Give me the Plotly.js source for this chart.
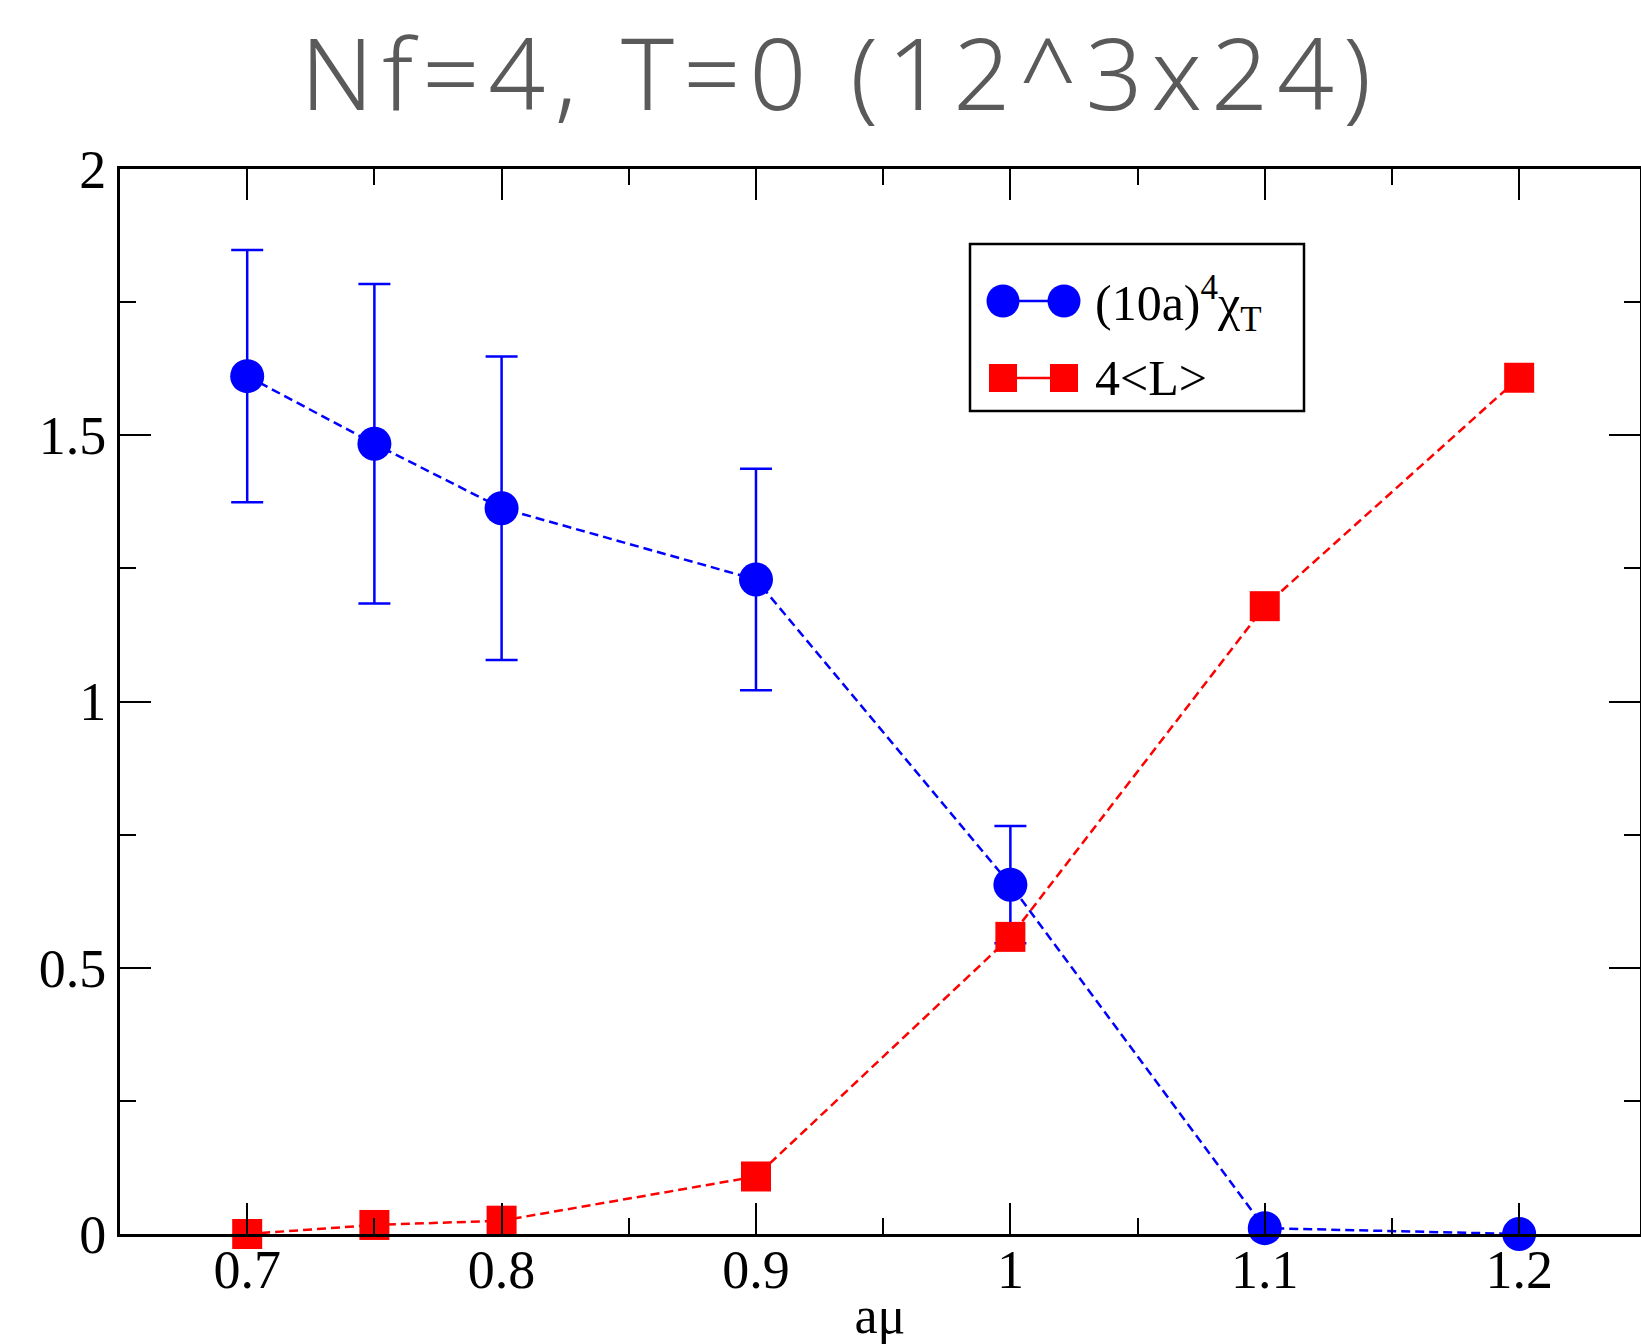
<!DOCTYPE html>
<html>
<head>
<meta charset="utf-8">
<script src="https://cdn.plot.ly/plotly-3.0.1.min.js"></script>
<style>
html,body{margin:0;padding:0;background:#fff;overflow:hidden}
#chart{width:1641px;height:1344px}
.gtitle{letter-spacing:9px}
</style>
</head>
<body>
<div id="chart"></div>
<script>
// Data
const amu = [0.7, 0.75, 0.8, 0.9, 1.0, 1.1, 1.2];
const chiT = [1.611, 1.484, 1.363, 1.229, 0.656, 0.011, 0.0];
const chiTErr = [0.237, 0.30, 0.285, 0.208, 0.11, 0, 0];
const fourL = [0.0, 0.017, 0.025, 0.108, 0.558, 1.179, 1.608];
const chiName = "(10a)<sup>4</sup>χ<sub>T</sub>";
const lName = "4&lt;L&gt;";
const titleText = "Nf=4, T=0 (12^3x24)";
const xTitle = "aμ";
const xTickVals = [0.7, 0.8, 0.9, 1.0, 1.1, 1.2];
const xTickText = ["0.7", "0.8", "0.9", "1", "1.1", "1.2"];
const yTickVals = [0, 0.5, 1, 1.5, 2];
const yTickText = ["0", "0.5", "1", "1.5", "2"];

const serif = "Liberation Serif, Times New Roman, serif";
const BLUE = "#0000ff", RED = "#ff0000";

// plot-area geometry (pixels) used only for placing the legend decoration
const M = {l: 120, r: 1, t: 169, b: 110};
const W = 1641, H = 1344;
const PW = W - M.l - M.r, PH = H - M.t - M.b;
const px = v => (v - M.l) / PW;          // pixel x -> paper x
const py = v => (H - M.b - v) / PH;      // pixel y -> paper y

const traces = [
  {
    x: amu, y: chiT, name: chiName, type: "scatter", mode: "lines+markers",
    line: {color: BLUE, width: 2.5, dash: "9px,5px"},
    marker: {color: BLUE, size: 34, symbol: "circle"},
    error_y: {type: "data", array: chiTErr, visible: true, color: BLUE, thickness: 2.5, width: 16},
    cliponaxis: false, showlegend: false
  },
  {
    x: amu, y: fourL, name: lName, type: "scatter", mode: "lines+markers",
    line: {color: RED, width: 2.5, dash: "9px,5px"},
    marker: {color: RED, size: 30, symbol: "square"},
    cliponaxis: false, showlegend: false
  }
];

// custom legend (box + sample symbols), like the original xmgrace legend
const lg = {x0: 970, x1: 1304, y0: 244, y1: 411, s1: 1003, s2: 1064, r1: 301, r2: 378, tx: 1093};
const shapes = [
  {type: "rect", xref: "paper", yref: "paper", x0: px(lg.x0), x1: px(lg.x1), y0: py(lg.y1), y1: py(lg.y0),
   line: {color: "#000", width: 2.5}, fillcolor: "#fff", layer: "above"},
  {type: "line", xref: "paper", yref: "paper", x0: px(lg.s1), x1: px(lg.s2), y0: py(lg.r1), y1: py(lg.r1),
   line: {color: BLUE, width: 2.5}, layer: "above"},
  {type: "circle", xref: "paper", yref: "paper", x0: px(lg.s1 - 16.5), x1: px(lg.s1 + 16.5), y0: py(lg.r1 + 16.5), y1: py(lg.r1 - 16.5),
   line: {width: 0}, fillcolor: BLUE, layer: "above"},
  {type: "circle", xref: "paper", yref: "paper", x0: px(lg.s2 - 16.5), x1: px(lg.s2 + 16.5), y0: py(lg.r1 + 16.5), y1: py(lg.r1 - 16.5),
   line: {width: 0}, fillcolor: BLUE, layer: "above"},
  {type: "line", xref: "paper", yref: "paper", x0: px(lg.s1), x1: px(lg.s2), y0: py(lg.r2), y1: py(lg.r2),
   line: {color: RED, width: 2.5}, layer: "above"},
  {type: "rect", xref: "paper", yref: "paper", x0: px(lg.s1 - 14), x1: px(lg.s1 + 14), y0: py(lg.r2 + 14), y1: py(lg.r2 - 14),
   line: {width: 0}, fillcolor: RED, layer: "above"},
  {type: "rect", xref: "paper", yref: "paper", x0: px(lg.s2 - 14), x1: px(lg.s2 + 14), y0: py(lg.r2 + 14), y1: py(lg.r2 - 14),
   line: {width: 0}, fillcolor: RED, layer: "above"}
];
const annotations = [
  {xref: "paper", yref: "paper", x: px(lg.tx), y: py(lg.r1 + 2), xanchor: "left", yanchor: "middle",
   text: chiName, showarrow: false, font: {family: serif, size: 50, color: "#000"}},
  {xref: "paper", yref: "paper", x: px(lg.tx), y: py(lg.r2), xanchor: "left", yanchor: "middle",
   text: lName, showarrow: false, font: {family: serif, size: 50, color: "#000"}}
];

const layout = {
  width: W, height: H,
  margin: {l: M.l, r: M.r, t: M.t, b: M.b, pad: 0},
  paper_bgcolor: "#fff", plot_bgcolor: "#fff",
  showlegend: false,
  title: {
    text: titleText, x: 0.512, xref: "container", xanchor: "center",
    y: 0.944, yref: "container", yanchor: "middle",
    font: {family: "Noto Sans, sans-serif", size: 100, color: "#5a5a5a", weight: 300}
  },
  xaxis: {
    range: [0.65, 1.2475], tickmode: "array", tickvals: xTickVals, ticktext: xTickText,
    ticks: "inside", ticklen: 31, tickwidth: 2, tickcolor: "#000",
    minor: {ticks: "inside", ticklen: 16, tickwidth: 2, tickcolor: "#000", dtick: 0.05, tick0: 0.7},
    showline: true, linecolor: "#000", linewidth: 3, mirror: "ticks",
    showgrid: false, zeroline: false, ticklabelstandoff: -14,
    tickfont: {family: serif, size: 54, color: "#000"},
    title: {text: xTitle, font: {family: serif, size: 52, color: "#000"}, standoff: 20}
  },
  yaxis: {
    range: [0, 2], tickmode: "array", tickvals: yTickVals, ticktext: yTickText,
    ticks: "inside", ticklen: 31, tickwidth: 2, tickcolor: "#000",
    minor: {ticks: "inside", ticklen: 16, tickwidth: 2, tickcolor: "#000", dtick: 0.25, tick0: 0},
    showline: true, linecolor: "#000", linewidth: 3, mirror: "ticks",
    showgrid: false, zeroline: false,
    tickfont: {family: serif, size: 54, color: "#000"}
  },
  shapes: shapes,
  annotations: annotations
};

Plotly.newPlot("chart", traces, layout, {displayModeBar: false, staticPlot: true});
</script>
</body>
</html>
